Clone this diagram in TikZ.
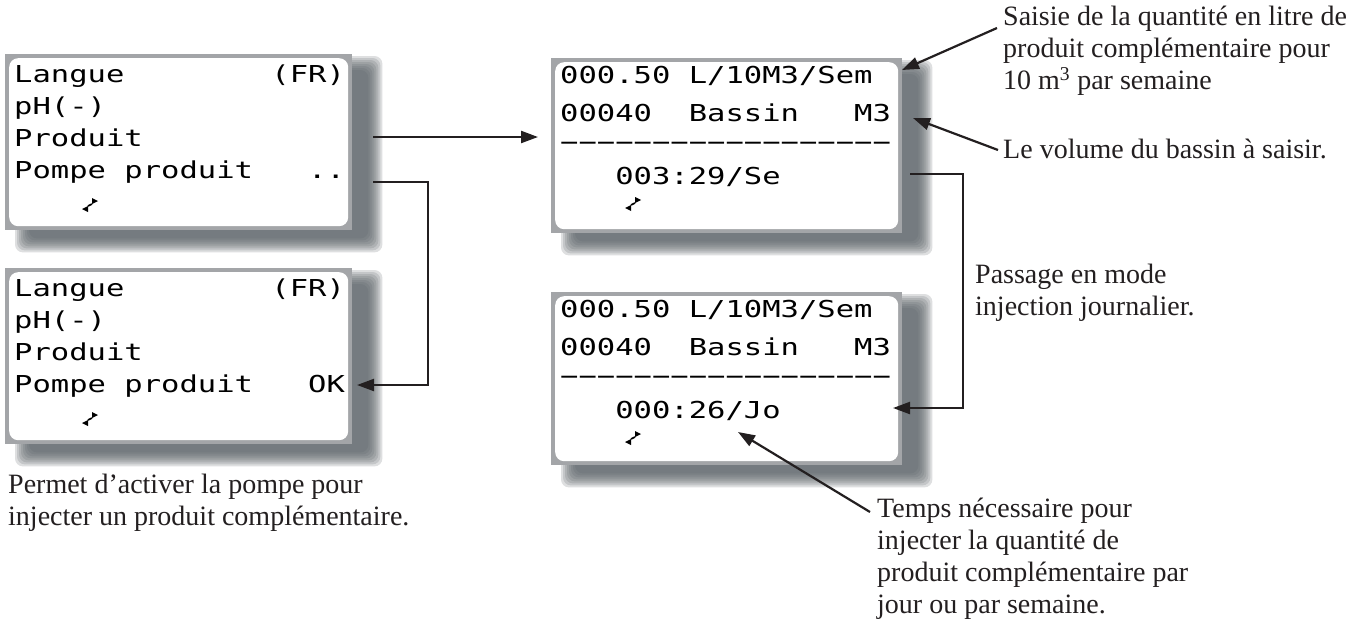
\documentclass[tikz,border=0pt]{standalone}
\usepackage{fontspec}
\setmainfont{Liberation Serif}
\newfontfamily\lcdfont[FakeStretch=1.31,Ligatures=TeXOff]{DejaVu Sans Mono}
\usetikzlibrary{arrows.meta,backgrounds,calc}

\definecolor{framegray}{RGB}{163,165,168}
\definecolor{shadowgray}{RGB}{92,98,104}
\definecolor{inkgray}{RGB}{35,31,32}

\tikzset{
  screen/.style={fill=framegray, anchor=north west, inner sep=0pt,
    minimum width=347pt, minimum height=176pt,
    path picture={\fill[white, rounded corners=9pt]
      ([shift={(4pt,-4pt)}]path picture bounding box.north west) rectangle
      ([shift={(-4pt,4pt)}]path picture bounding box.south east);}},
  lcd/.style={font=\lcdfont\fontsize{23.3}{24}\selectfont, anchor=base west, inner sep=0pt},
  note/.style={font=\fontsize{28}{32}\selectfont, anchor=north west, align=left,
    inner sep=0pt, text=inkgray},
  pointer/.style={draw=inkgray, line width=2.2pt, -{Triangle[length=17pt,width=12pt]}}
}

% cursor sign of the display
\newcommand{\lcdcursor}[1]{%
  \fill ($(#1)+(2,-7)$) -- ++(0,6) -- ++(6,-3) -- cycle;
  \fill ($(#1)+(-2,1)$) -- ++(0,6) -- ++(-6,-3) -- cycle;
  \draw[line width=1.6pt] ($(#1)+(2,-1)$) -- ($(#1)+(-2,1)$);
}

\begin{document}
\begin{tikzpicture}[x=1pt, y=-1pt]
    \useasboundingbox (0,0) rectangle (1354,624);
    % Screens
    \node[screen] (menuA) at (5,54) {};
    \node[screen] (menuB) at (5,268) {};
    \node[screen, minimum width=351pt, minimum height=175pt] (doseA) at (551,58) {};
    \node[screen, minimum width=351pt, minimum height=173pt] (doseB) at (551,292) {};
    % Shadows
    \begin{pgfonlayer}{background}
        \fill[white] (0,0) rectangle (1354,624);
        \foreach \s in {menuA,menuB,doseA,doseB}
            \foreach \e in {10,8,...,-4}
                \fill[shadowgray, opacity=0.2, rounded corners=8pt]
                    ($(\s.north west)+({20-(\e)},{12-(\e)})$) rectangle ($(\s.south east)+({20+\e},{12+\e})$);
    \end{pgfonlayer}
    % Menu, pump off
    \node[lcd] (menuA1) at (14,82) {Langue~~~~~~~~(FR)};
    \node[lcd] (menuA2) at (14,114) {pH(-)};
    \node[lcd] (menuA3) at (14,146) {Produit};
    \node[lcd] (menuA4) at (14,178) {Pompe~produit~~~..};
    \lcdcursor{90,205}
    % Menu, pump on
    \node[lcd] (menuB1) at (14,296) {Langue~~~~~~~~(FR)};
    \node[lcd] (menuB2) at (14,328) {pH(-)};
    \node[lcd] (menuB3) at (14,360) {Produit};
    \node[lcd] (menuB4) at (14,392) {Pompe~produit~~~OK};
    \lcdcursor{90,419}
    % Dose per week
    \node[lcd] (doseA1) at (560,83) {000.50~L/10M3/Sem};
    \node[lcd] (doseA2) at (560,121) {00040~~Bassin~~~M3};
    \node[lcd] (doseA3) at (560,150) {−−−−−−−−−−−−−−−−−−};
    \node[lcd] (doseA4) at (560,184) {~~~003:29/Se};
    \lcdcursor{633,204}
    % Dose per day
    \node[lcd] (doseB1) at (560,317) {000.50~L/10M3/Sem};
    \node[lcd] (doseB2) at (560,355) {00040~~Bassin~~~M3};
    \node[lcd] (doseB3) at (560,384) {−−−−−−−−−−−−−−−−−−};
    \node[lcd] (doseB4) at (560,418) {~~~000:26/Jo};
    \lcdcursor{633,438}
    % Notes
    \node[note] (saisie) at (1003,6) {Saisie de la quantité en litre de\\produit complémentaire pour\\10 m\textsuperscript{3} par semaine};
    \node[note] (volume) at (1003,139) {Le volume du bassin à saisir.};
    \node[note] (passage) at (975,264) {Passage en mode\\injection journalier.};
    \node[note] (permet) at (8,474) {Permet d’activer la pompe pour\\injecter un produit complémentaire.};
    \node[note] (temps) at (877,498) {Temps nécessaire pour\\injecter la quantité de\\produit complémentaire par\\jour ou par semaine.};
    % Connector ends
    \coordinate (outA) at (373,137);
    \coordinate (outB) at (373,182);
    \coordinate (okB) at (357,385);
    \coordinate (outC) at (910,174);
    \coordinate (inD) at (893,408);
    \coordinate (saisieTail) at (997,28);
    \coordinate (saisieTip) at (902,70);
    \coordinate (volumeTail) at (998,150);
    \coordinate (volumeTip) at (913,118);
    \coordinate (tempsTail) at (870,512);
    \coordinate (tempsTip) at (738,432);
    % Connectors
    \draw[pointer, shorten >=13pt] (outA) -- (outA -| doseA.west);
    \draw[pointer] (outB) -- ++(55,0) |- (okB);
    \draw[pointer] (outC) -- ++(53,0) |- (inD);
    \draw[pointer] (saisieTail) -- (saisieTip);
    \draw[pointer] (volumeTail) -- (volumeTip);
    \draw[pointer] (tempsTail) -- (tempsTip);
\end{tikzpicture}
\end{document}
